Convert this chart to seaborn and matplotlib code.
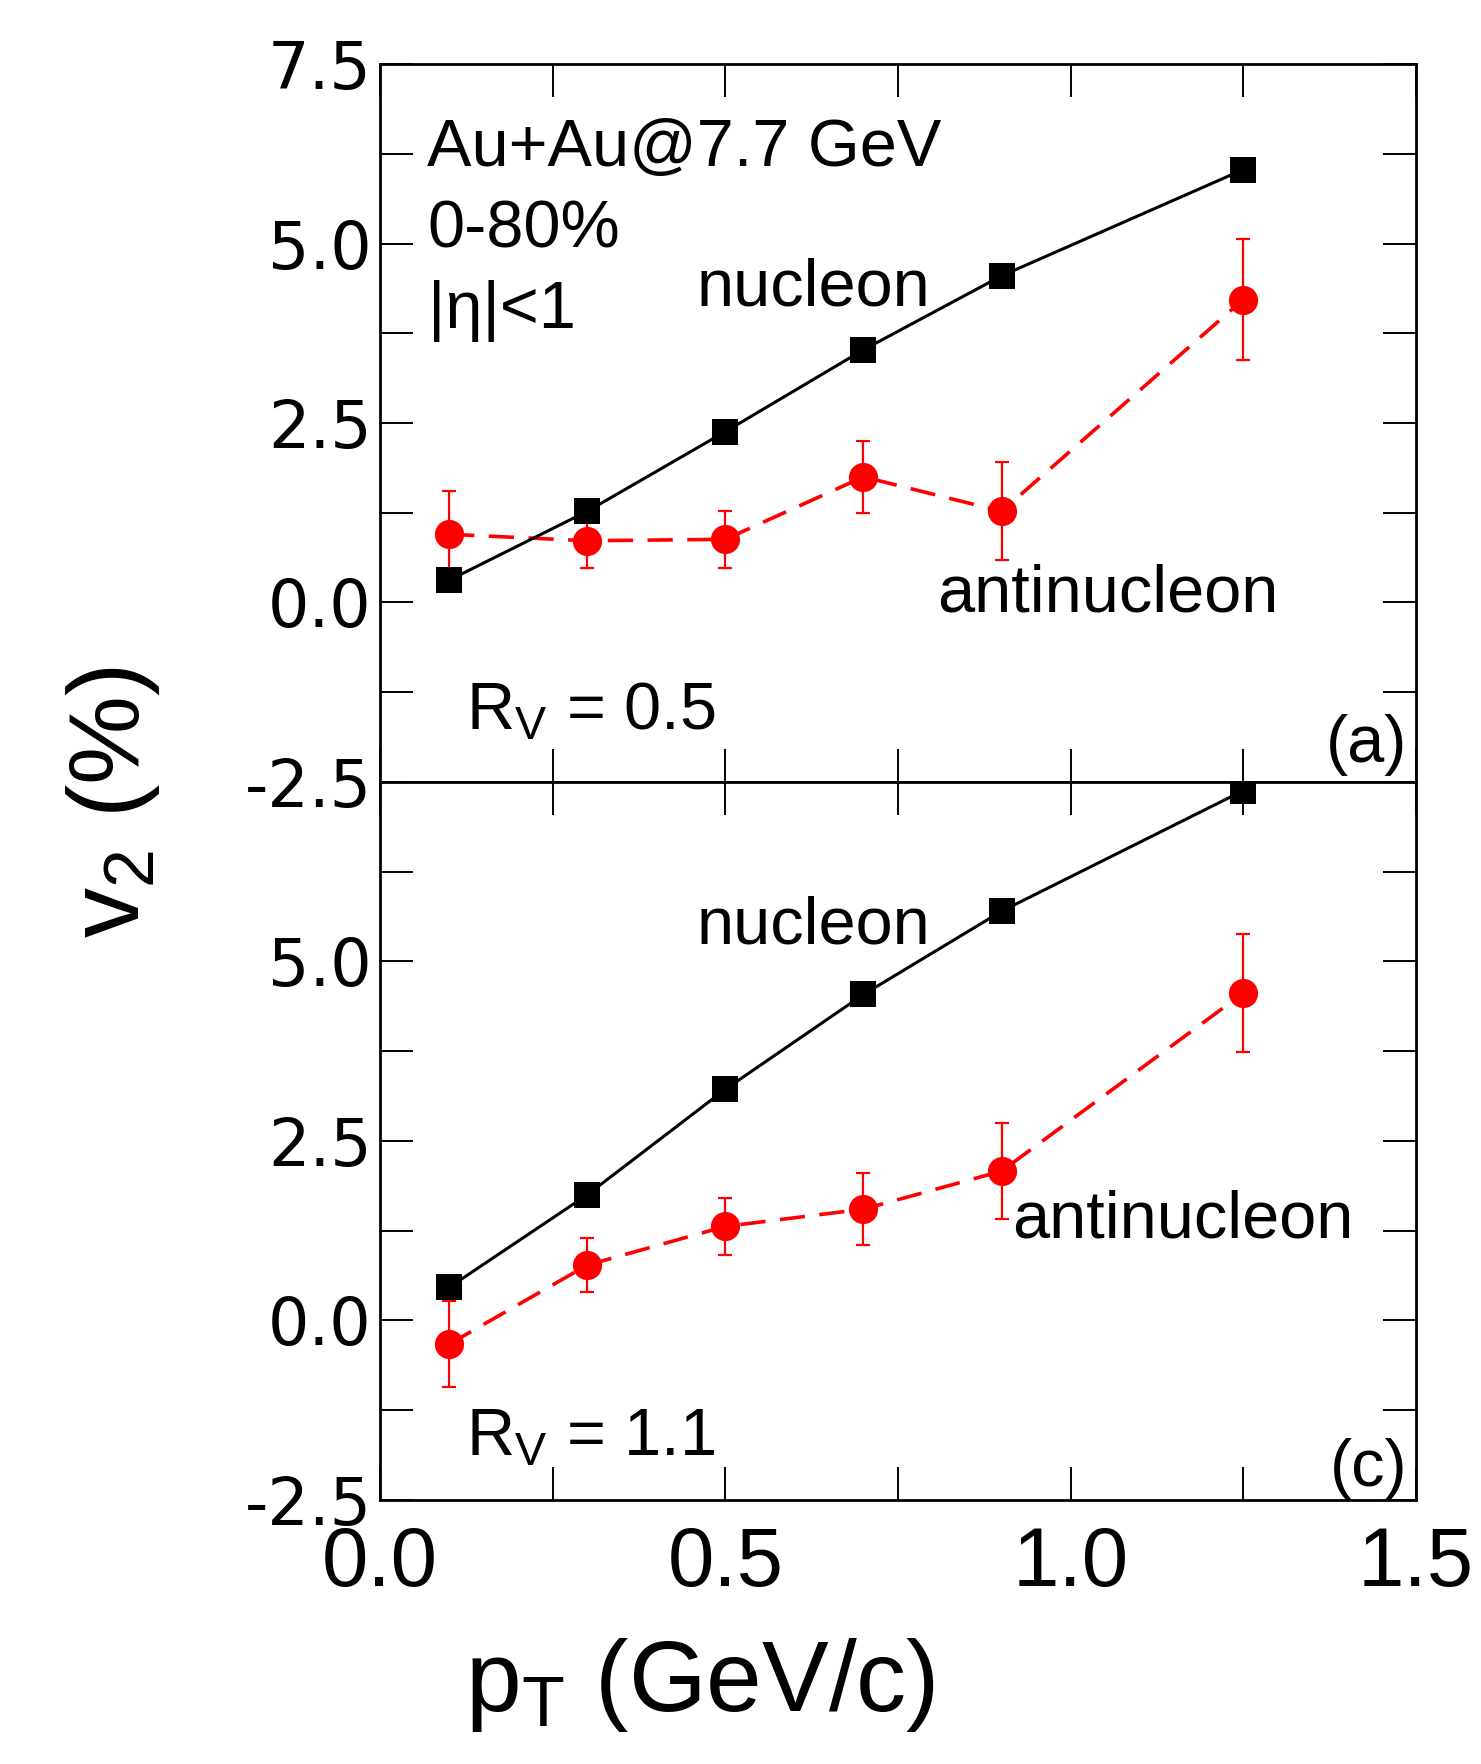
import matplotlib
matplotlib.use("Agg")
import matplotlib.pyplot as plt
import seaborn as sns
import pandas as pd
from matplotlib.ticker import MultipleLocator, FixedLocator

# transverse momentum bins (GeV/c)
pt = [0.1, 0.3, 0.5, 0.7, 0.9, 1.25]

# panel (a): R_V = 0.5
nuc_a = [0.31, 1.27, 2.38, 3.52, 4.55, 6.03]
anti_a = [0.95, 0.86, 0.88, 1.75, 1.27, 4.22]
anti_a_err = [0.60, 0.38, 0.40, 0.50, 0.68, 0.84]

# panel (c): R_V = 1.1
nuc_c = [0.46, 1.75, 3.22, 4.54, 5.70, 7.38]
anti_c = [-0.33, 0.77, 1.31, 1.55, 2.08, 4.56]
anti_c_err = [0.60, 0.38, 0.40, 0.50, 0.67, 0.82]

y_ticks = [-2.5, 0.0, 2.5, 5.0, 7.5]
x_ticks = [0.0, 0.5, 1.0, 1.5]

sns.set_theme(style="ticks")
plt.rcParams["font.family"] = ["Liberation Sans", "DejaVu Sans"]
plt.rcParams["mathtext.default"] = "regular"
plt.rcParams["axes.unicode_minus"] = False
for key in ("text.color", "axes.labelcolor", "xtick.color", "ytick.color",
            "axes.edgecolor"):
    plt.rcParams[key] = "black"

fig = plt.figure(figsize=(14.81, 17.64), dpi=100)
ax_a = fig.add_axes([0.2566, 0.5567, 0.6995, 0.4070])
ax_c = fig.add_axes([0.2566, 0.1497, 0.6995, 0.4070], sharex=ax_a)

RED = "#ff0000"
TXT = 48


def draw_panel(ax, nuc, anti, err):
    df_n = pd.DataFrame({"pt": pt, "v2": nuc})
    df_a = pd.DataFrame({"pt": pt, "v2": anti})
    ax.errorbar(pt, anti, yerr=err, fmt="none", ecolor=RED, elinewidth=1.6,
                capsize=5, capthick=1.6, zorder=2)
    sns.lineplot(data=df_a, x="pt", y="v2", ax=ax, color=RED, lw=2.6,
                 marker="o", markersize=21, markeredgewidth=0,
                 linestyle=(0, (7, 4)), zorder=3)
    sns.lineplot(data=df_n, x="pt", y="v2", ax=ax, color="black", lw=2.2,
                 marker="s", markersize=19, markeredgewidth=0, zorder=4)
    ax.set_xlim(0, 1.5)
    ax.set_ylim(-2.5, 7.5)
    ax.yaxis.set_major_locator(FixedLocator(y_ticks))
    ax.yaxis.set_minor_locator(MultipleLocator(1.25))
    ax.xaxis.set_major_locator(FixedLocator(x_ticks))
    ax.xaxis.set_minor_locator(MultipleLocator(0.25))
    ax.tick_params(which="both", direction="in", top=True, right=True,
                   length=24, width=1.4, color="black")
    ax.tick_params(axis="y", labelsize=47, pad=6, labelcolor="black")
    ax.tick_params(axis="x", labelsize=60, pad=18, labelcolor="black")
    ax.set_xlabel("")
    ax.set_ylabel("")
    ax.grid(False)
    for sp in ax.spines.values():
        sp.set_visible(True)
        sp.set_linewidth(2.0)
        sp.set_color("black")


draw_panel(ax_a, nuc_a, anti_a, anti_a_err)
draw_panel(ax_c, nuc_c, anti_c, anti_c_err)

ax_a.tick_params(axis="x", labelbottom=False)
ax_a.set_yticks(y_ticks)
ax_a.set_yticklabels(["-2.5", "0.0", "2.5", "5.0", "7.5"])
ax_c.set_yticks(y_ticks)
ax_c.set_yticklabels(["-2.5", "0.0", "2.5", "5.0", ""])
for ax in (ax_a, ax_c):
    for lab in ax.get_yticklabels():
        lab.set_fontfamily("DejaVu Sans")

# annotations, panel (a)
ax_a.text(0.068, 6.08, "Au+Au@7.7 GeV", fontsize=TXT, va="baseline")
ax_a.text(0.068, 4.95, "0-80%", fontsize=TXT, va="baseline")
ax_a.text(0.070, 3.83, "|η|<1", fontsize=TXT, va="baseline")
ax_a.text(0.459, 4.14, "nucleon", fontsize=TXT, va="baseline")
ax_a.text(0.806, -0.13, "antinucleon", fontsize=TXT, va="baseline")
ax_a.text(0.125, -1.77, "R$_V$ = 0.5", fontsize=TXT, va="baseline")
ax_a.text(1.487, -2.22, "(a)", fontsize=TXT, va="baseline", ha="right")

# annotations, panel (c)
ax_c.text(0.459, 5.25, "nucleon", fontsize=TXT, va="baseline")
ax_c.text(0.915, 1.15, "antinucleon", fontsize=TXT, va="baseline")
ax_c.text(0.125, -1.88, "R$_V$ = 1.1", fontsize=TXT, va="baseline")
ax_c.text(1.487, -2.30, "(c)", fontsize=TXT, va="baseline", ha="right")

fig.text(0.076, 0.545, "v$_2$ (%)", rotation=90, fontsize=72,
         ha="center", va="center")
fig.text(0.473, 0.045, "p$_T$ (GeV/c)", fontsize=72, ha="center",
         va="center")

fig.savefig("out.png", dpi=100)
